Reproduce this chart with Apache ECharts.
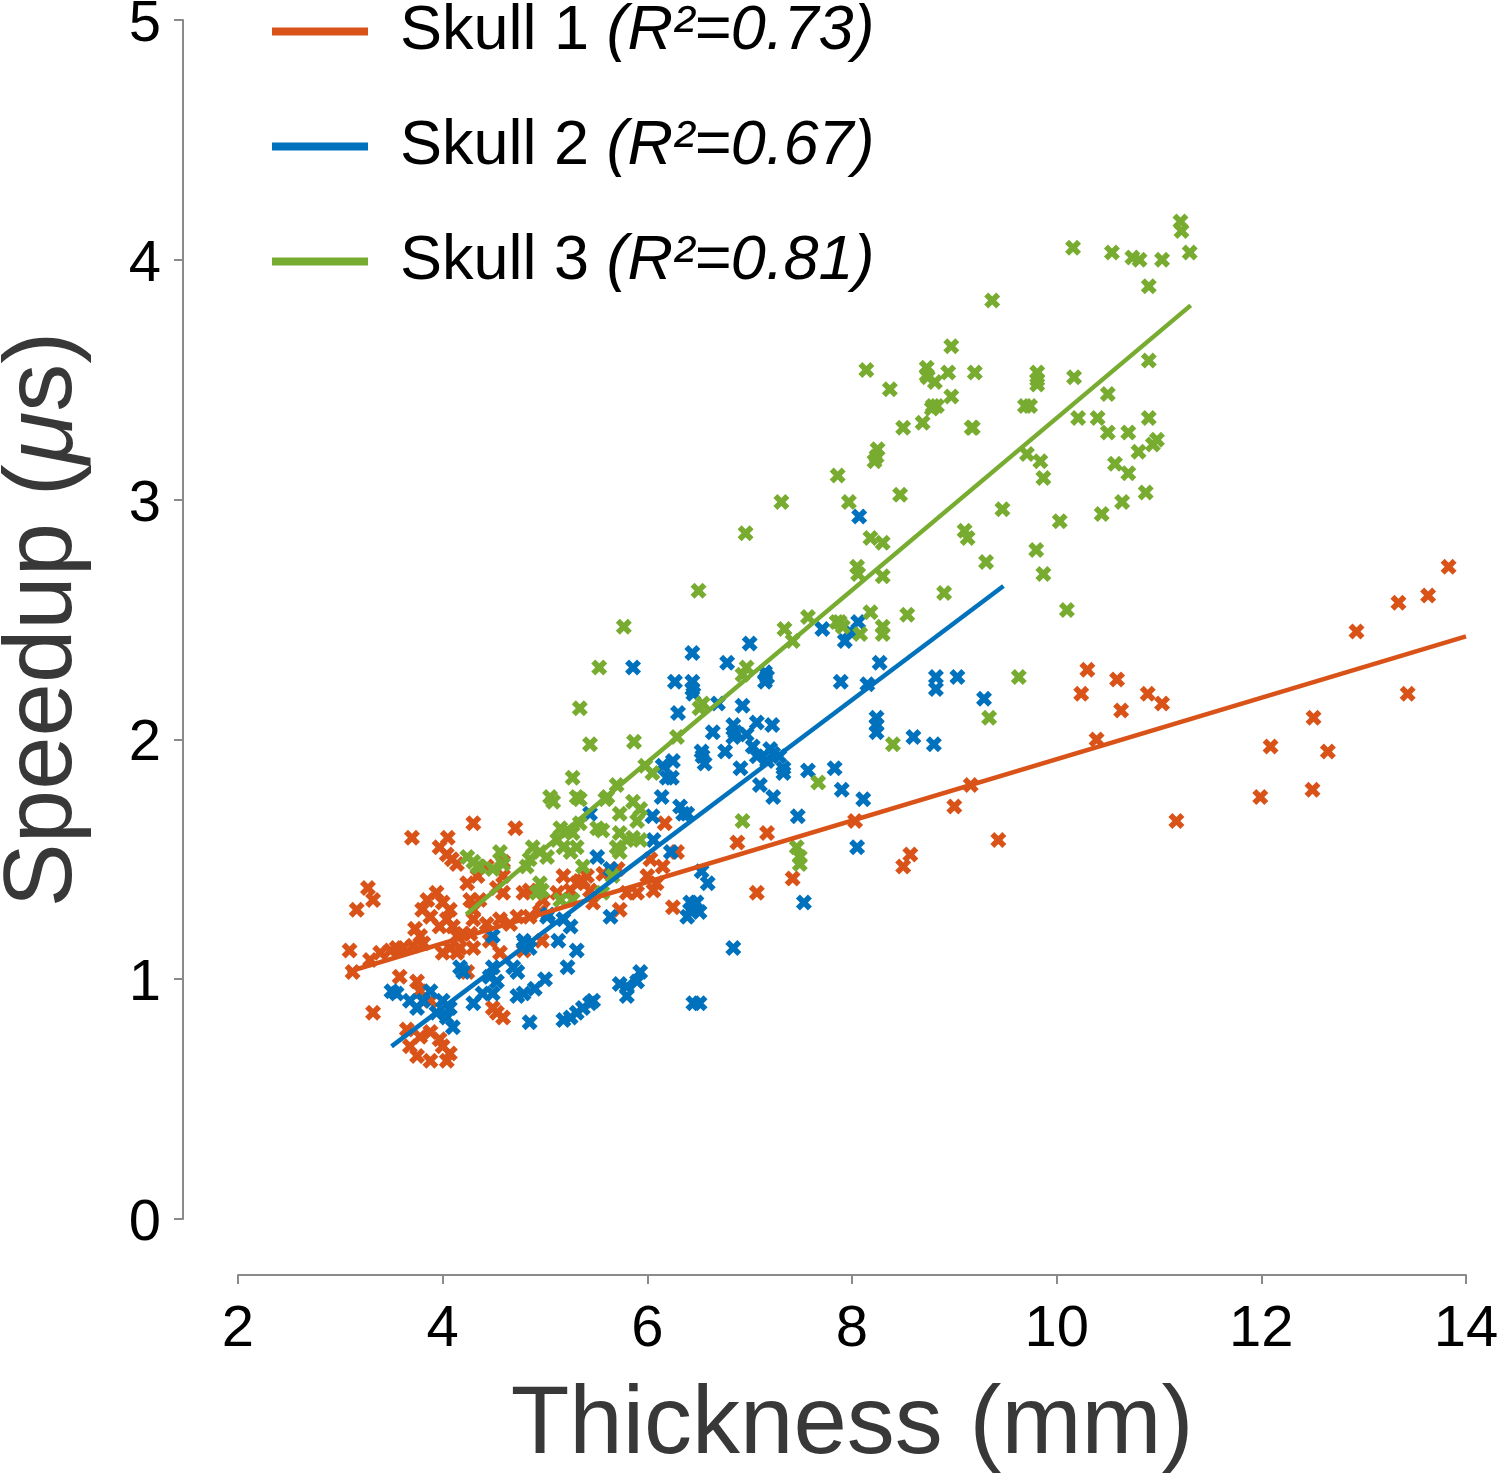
<!DOCTYPE html>
<html><head><meta charset="utf-8">
<script src="https://cdn.jsdelivr.net/npm/echarts/dist/echarts.min.js"></script>
<style>html,body{margin:0;padding:0;background:#fff}#c{width:1500px;height:1474px}</style>
</head><body><div id="c"></div>
<script>
// ---- data ----
const skullNames = ['Skull 1', 'Skull 2', 'Skull 3'];
const rSquared = ['0.73', '0.67', '0.81'];
const skullColors = ['#D95319', '#0072BD', '#77AC30'];
const xTicks = [2, 4, 6, 8, 10, 12, 14];
const yTicks = [0, 1, 2, 3, 4, 5];

const skull1Points = [[3.09,1.12],[3.12,1.03],[3.16,1.29],[3.27,1.38],[3.32,1.33],[3.32,0.86],[3.29,1.08],[3.39,1.11],[3.49,1.12],[3.55,1.13],[3.61,1.13],[3.71,1.14],[3.81,1.15],[3.70,1.59],[4.05,1.59],[3.97,1.55],[4.04,1.52],[4.09,1.50],[4.14,1.48],[4.30,1.65],[4.71,1.63],[4.59,1.49],[3.85,1.33],[3.80,1.29],[3.88,1.26],[3.73,1.21],[3.78,1.18],[3.94,1.36],[4.00,1.32],[4.07,1.29],[4.04,1.25],[3.97,1.22],[4.10,1.22],[4.14,1.18],[4.20,1.19],[4.17,1.13],[4.07,1.13],[4.00,1.11],[4.14,1.11],[4.27,1.33],[4.30,1.29],[4.36,1.33],[4.24,1.40],[4.34,1.43],[4.43,1.47],[4.59,1.43],[4.53,1.38],[4.59,1.36],[4.79,1.36],[4.30,1.25],[4.43,1.23],[4.56,1.25],[4.66,1.23],[4.73,1.26],[4.85,1.26],[4.95,1.28],[4.27,1.19],[4.30,1.13],[4.46,1.16],[4.98,1.33],[5.12,1.36],[5.25,1.37],[5.37,1.41],[5.44,1.37],[5.31,1.40],[6.03,1.50],[6.15,1.47],[6.29,1.53],[6.09,1.40],[6.00,1.43],[5.73,1.29],[5.90,1.36],[6.25,1.30],[5.57,1.44],[4.85,1.37],[3.58,1.01],[3.75,0.99],[3.78,0.95],[3.88,0.91],[3.65,0.79],[3.78,0.76],[3.88,0.78],[3.68,0.72],[3.75,0.68],[3.88,0.66],[4.00,0.72],[4.04,0.66],[4.07,0.69],[3.97,0.75],[4.53,0.86],[4.49,0.88],[4.59,0.84],[4.24,1.03],[4.79,1.12],[6.17,1.65],[6.06,1.37],[5.47,1.32],[4.97,1.16],[4.56,1.11],[6.88,1.57],[7.17,1.61],[7.42,1.42],[7.07,1.36],[8.03,1.66],[8.50,1.47],[8.57,1.52],[5.18,1.43],[5.34,1.41],[5.80,1.36],[5.71,1.46],[5.41,1.43],[9.16,1.81],[9.00,1.72],[9.43,1.58],[10.30,2.29],[10.59,2.25],[10.24,2.19],[10.89,2.19],[11.03,2.15],[10.63,2.12],[10.39,2.00],[11.17,1.66],[11.99,1.76],[12.50,1.79],[12.09,1.97],[12.65,1.95],[12.51,2.09],[12.93,2.45],[13.34,2.57],[13.63,2.60],[13.83,2.72],[13.43,2.19]];

const skull2Points = [[3.50,0.95],[3.55,0.94],[3.68,0.91],[3.75,0.88],[3.81,0.91],[3.88,0.95],[4.00,0.91],[4.07,0.88],[4.04,0.84],[4.10,0.80],[3.94,0.86],[4.17,1.05],[4.20,1.03],[4.49,1.05],[4.46,1.01],[4.53,0.99],[4.49,0.94],[4.39,0.94],[4.30,0.90],[4.69,1.05],[4.73,1.03],[4.79,0.94],[4.73,0.93],[4.85,0.82],[4.49,1.18],[4.80,1.15],[4.85,1.13],[5.02,1.26],[5.18,1.25],[5.25,1.22],[5.22,1.05],[5.31,1.12],[5.51,1.51],[5.64,1.46],[5.73,0.98],[5.80,0.97],[5.90,0.99],[5.80,0.93],[5.18,0.83],[5.25,0.84],[5.31,0.86],[5.37,0.88],[5.44,0.90],[5.47,0.91],[6.45,0.90],[6.51,0.90],[6.42,1.29],[6.48,1.32],[5.64,1.26],[6.05,1.68],[6.35,1.69],[6.23,1.53],[5.93,1.03],[5.86,2.30],[6.44,2.36],[7.00,2.40],[6.78,2.32],[6.27,2.24],[6.44,2.24],[6.44,2.21],[6.45,2.19],[6.30,2.11],[6.69,2.15],[6.93,2.14],[7.15,2.28],[7.15,2.24],[7.17,2.26],[7.71,2.46],[8.06,2.49],[7.98,2.45],[7.93,2.41],[8.27,2.32],[7.89,2.24],[8.15,2.23],[8.24,2.09],[8.24,2.06],[8.24,2.03],[6.64,2.03],[6.84,2.06],[6.86,2.03],[6.84,2.01],[7.07,2.07],[6.97,2.02],[7.22,2.06],[6.53,1.95],[6.54,1.93],[6.56,1.90],[6.76,1.95],[7.03,1.97],[7.07,1.93],[7.20,1.96],[7.23,1.94],[7.29,1.93],[7.17,1.91],[6.91,1.88],[7.33,1.88],[7.33,1.86],[7.57,1.87],[7.83,1.88],[7.90,1.79],[8.11,1.75],[7.10,1.81],[7.23,1.76],[6.15,1.89],[6.25,1.91],[6.19,1.84],[6.24,1.84],[6.14,1.76],[6.32,1.72],[6.39,1.69],[7.47,1.68],[6.06,1.58],[6.53,1.45],[6.59,1.40],[6.42,1.32],[6.45,1.29],[6.39,1.26],[6.51,1.28],[8.05,1.55],[7.53,1.32],[6.84,1.13],[5.44,1.69],[8.82,2.26],[8.82,2.21],[9.03,2.26],[9.29,2.17],[8.60,2.01],[8.80,1.98],[8.07,2.93],[5.03,1.27],[5.13,1.16],[5.00,1.00],[4.90,0.96],[4.79,1.16]];

const skull3Points = [[10.90,3.89],[9.37,3.83],[8.97,3.64],[8.14,3.54],[8.73,3.55],[8.73,3.52],[8.74,3.51],[8.94,3.53],[9.20,3.53],[9.81,3.53],[9.81,3.50],[9.81,3.48],[10.17,3.51],[8.37,3.46],[8.81,3.49],[8.97,3.43],[8.79,3.39],[8.83,3.39],[8.78,3.38],[10.50,3.44],[10.90,3.58],[9.69,3.39],[9.74,3.39],[8.50,3.30],[8.69,3.32],[9.18,3.30],[9.17,3.30],[10.21,3.34],[10.40,3.34],[10.90,3.34],[10.50,3.28],[10.70,3.28],[10.98,3.25],[10.94,3.23],[10.80,3.20],[8.25,3.21],[8.24,3.18],[8.22,3.16],[9.71,3.19],[9.84,3.16],[9.87,3.09],[10.57,3.15],[10.70,3.11],[10.87,3.03],[7.86,3.10],[7.31,2.99],[7.97,2.99],[8.47,3.02],[10.64,2.99],[10.44,2.94],[9.47,2.96],[10.03,2.91],[8.18,2.84],[8.30,2.82],[9.10,2.87],[9.13,2.84],[9.80,2.79],[9.87,2.69],[9.31,2.74],[8.05,2.72],[8.06,2.69],[8.30,2.68],[8.90,2.61],[10.10,2.54],[7.57,2.51],[8.18,2.53],[8.54,2.52],[7.34,2.46],[7.85,2.49],[7.88,2.49],[7.91,2.47],[8.30,2.47],[8.30,2.44],[8.08,2.44],[11.21,4.16],[11.22,4.12],[10.16,4.05],[10.54,4.03],[10.74,4.01],[10.81,4.00],[11.03,4.00],[11.30,4.03],[5.77,2.47],[7.42,2.41],[5.53,2.30],[6.97,2.30],[6.93,2.27],[5.34,2.13],[6.51,2.13],[6.54,2.15],[8.40,1.98],[5.44,1.98],[5.87,1.99],[6.29,2.01],[5.98,1.89],[6.05,1.86],[5.27,1.84],[5.70,1.81],[7.67,1.82],[5.08,1.74],[5.05,1.76],[5.31,1.76],[5.34,1.75],[5.59,1.75],[5.61,1.76],[5.86,1.74],[5.93,1.71],[5.90,1.66],[5.73,1.69],[6.93,1.66],[5.15,1.63],[5.22,1.62],[5.27,1.61],[5.34,1.65],[5.51,1.63],[5.56,1.62],[5.73,1.61],[5.80,1.58],[5.86,1.59],[5.93,1.58],[5.12,1.58],[5.18,1.55],[5.25,1.53],[5.31,1.55],[4.88,1.55],[4.95,1.53],[4.85,1.50],[5.02,1.51],[4.56,1.53],[5.70,1.55],[5.73,1.53],[7.46,1.55],[7.49,1.51],[7.49,1.48],[4.49,1.46],[4.36,1.47],[4.82,1.47],[5.37,1.47],[4.95,1.40],[4.97,1.37],[4.92,1.36],[5.15,1.33],[5.27,1.33],[5.56,1.36],[5.66,1.43],[4.24,1.51],[4.34,1.47],[4.30,1.49],[4.59,1.48],[9.63,2.26],[9.34,2.09],[6.50,2.62],[6.96,2.86]];

// fitted lines (end points)
const skull1Fit = [[3.07,1.03],[14.0,2.43]];
const skull2Fit = [[3.50,0.72],[9.48,2.64]];
const skull3Fit = [[4.23,1.27],[11.31,3.81]];

// ---- chart ----
const crossPath = 'path://M0,3.5 L3.5,0 L7,3.5 L10.5,0 L14,3.5 L10.5,7 L14,10.5 L10.5,14 L7,10.5 L3.5,14 L0,10.5 L3.5,7 Z';
const pointSets = [skull1Points, skull2Points, skull3Points];
const fitSets = [skull1Fit, skull2Fit, skull3Fit];
const FONT = '"Liberation Sans", Arial, Helvetica, sans-serif';
const axisGrey = '#8a8a8a';

const series = [];
pointSets.forEach((pts, i) => {
  series.push({
    name: skullNames[i] + ' data', type: 'scatter', data: pts,
    symbol: crossPath, symbolSize: 16,
    itemStyle: { color: skullColors[i], opacity: 1 },
    silent: true, z: 2
  });
});
fitSets.forEach((pts, i) => {
  series.push({
    name: skullNames[i], type: 'line', data: pts,
    showSymbol: false, symbol: 'none',
    lineStyle: { color: skullColors[i], width: 4.5 },
    itemStyle: { color: skullColors[i] },
    silent: true, z: 3
  });
});

const chart = echarts.init(document.getElementById('c'), null, { renderer: 'canvas' });
chart.setOption({
  animation: false,
  backgroundColor: '#ffffff',
  textStyle: { fontFamily: FONT },
  grid: { left: 238, right: 34, top: 20, bottom: 255, containLabel: false, outerBoundsMode: 'none' },
  legend: {
    data: skullNames,
    orient: 'vertical', left: 272, top: 0, padding: 0,
    icon: 'rect', itemWidth: 96, itemHeight: 8, itemGap: 52,
    selectedMode: false,
    formatter: function (name) {
      const r = rSquared[skullNames.indexOf(name)];
      return '{g|}{n|' + name + ' }{i|(R²=' + r + ')}';
    },
    textStyle: {
      fontFamily: FONT, fontSize: 63, color: '#000', lineHeight: 56,
      rich: {
        g: { width: 27, lineHeight: 56 },
        n: { fontFamily: FONT, fontSize: 63, color: '#000', lineHeight: 56 },
        i: { fontFamily: FONT, fontSize: 63, fontStyle: 'italic', color: '#000', lineHeight: 56 }
      }
    }
  },
  xAxis: {
    type: 'value', min: xTicks[0], max: xTicks[xTicks.length - 1], interval: 2,
    offset: 56,
    axisLine: { show: true, onZero: false, lineStyle: { color: axisGrey, width: 2 } },
    axisTick: { show: true, inside: false, length: 9, lineStyle: { color: axisGrey, width: 2 } },
    axisLabel: { fontFamily: FONT, fontSize: 58, color: '#000', margin: 26 },
    splitLine: { show: false },
    name: 'Thickness (mm)', nameLocation: 'middle', nameGap: 104,
    nameTextStyle: { fontFamily: FONT, fontSize: 96, color: '#383838' }
  },
  yAxis: {
    type: 'value', min: yTicks[0], max: yTicks[yTicks.length - 1], interval: 1,
    offset: 55,
    axisLine: { show: true, onZero: false, lineStyle: { color: axisGrey, width: 2 } },
    axisTick: { show: true, inside: false, length: 9, lineStyle: { color: axisGrey, width: 2 } },
    axisLabel: { fontFamily: FONT, fontSize: 58, color: '#000', margin: 22, verticalAlign: 'top', lineHeight: 10 },
    splitLine: { show: false },
    name: '{a|Speedup (}{b|μ}{a|s)}', nameLocation: 'middle', nameRotate: 90, nameGap: 90,
    nameTextStyle: {
      fontFamily: FONT, fontSize: 96, color: '#383838',
      rich: {
        a: { fontFamily: FONT, fontSize: 96, color: '#383838' },
        b: { fontFamily: FONT, fontSize: 96, fontStyle: 'italic', color: '#383838' }
      }
    }
  },
  series: series
});
</script>
</body></html>
